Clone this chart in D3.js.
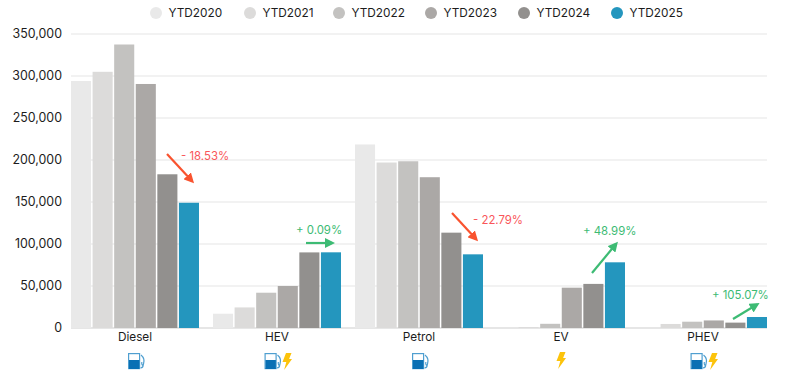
<!DOCTYPE html>
<html>
<head>
<meta charset="utf-8">
<script src="https://cdn.jsdelivr.net/npm/d3@7"></script>
<style>
  html, body { margin: 0; background: #fff; }
  text { font-family: Inter, "DejaVu Sans", sans-serif; }
</style>
</head>
<body>
<div id="viz"></div>
<script>
const categories = ['Diesel', 'HEV', 'Petrol', 'EV', 'PHEV'];
const years = ['YTD2020', 'YTD2021', 'YTD2022', 'YTD2023', 'YTD2024', 'YTD2025'];
const ytd2020 = [294000, 17000, 218500, 0, 0];
const ytd2021 = [305000, 24500, 197000, 1000, 4800];
const ytd2022 = [337500, 42000, 198500, 5000, 7500];
const ytd2023 = [290500, 50000, 179500, 48000, 9000];
const ytd2024 = [183000, 90000, 113500, 52500, 6400];
const ytd2025 = [149100, 90100, 87700, 78200, 13100];
const yTicks = [0, 50000, 100000, 150000, 200000, 250000, 300000, 350000];
const changeLabels = ['- 18.53%', '+ 0.09%', '- 22.79%', '+ 48.99%', '+ 105.07%'];
const iconTypes = [['fuel'], ['fuel', 'bolt'], ['fuel'], ['bolt'], ['fuel', 'bolt']];

const series = [ytd2020, ytd2021, ytd2022, ytd2023, ytd2024, ytd2025];
const colors = ['#e9e9e9', '#dcdbda', '#c3c2c0', '#aba8a6', '#92908e', '#2496be'];
const RED = '#f9565a', ORANGE = '#f9532f', GREEN = '#3dbb74';
const FONT = 'Inter, "DejaVu Sans", sans-serif';

const dimensions = { width: 785, height: 379, left: 71, right: 767, top: 34, bottom: 328 };

const svg = d3.select('#viz').append('svg')
    .attr('width', dimensions.width)
    .attr('height', dimensions.height)
    .style('display', 'block');

// scales
const xScale = d3.scaleBand().domain(categories)
    .range([dimensions.left, dimensions.right]).paddingInner(14 / 142);
const barScale = d3.scaleBand().domain(years)
    .range([0, xScale.bandwidth()]).paddingInner(0.07);
const yScale = d3.scaleLinear().domain([0, 350000])
    .range([dimensions.bottom, dimensions.top]);

// grid + y axis
svg.append('g').selectAll('line').data(yTicks).join('line')
    .attr('x1', dimensions.left).attr('x2', dimensions.right)
    .attr('y1', d => yScale(d)).attr('y2', d => yScale(d))
    .attr('stroke', '#e6e6e6').attr('stroke-width', d => d === 0 ? 2 : 1.2);

const yAxis = svg.append('g')
    .attr('transform', `translate(${dimensions.left}, 0)`)
    .call(d3.axisLeft(yScale).tickValues(yTicks).tickFormat(d3.format(',')).tickSize(0).tickPadding(9));
yAxis.select('.domain').remove();
yAxis.selectAll('text')
    .style('font-family', FONT)
    .style('font-size', '12.4px').attr('fill', '#1c1c1c');

// bars
const groups = svg.append('g').selectAll('g').data(categories).join('g')
    .attr('transform', d => `translate(${xScale(d)}, 0)`);
groups.selectAll('rect')
    .data((d, i) => years.map((y, j) => ({ year: y, value: series[j][i], color: colors[j] })))
    .join('rect')
    .attr('x', d => barScale(d.year))
    .attr('y', d => yScale(d.value))
    .attr('width', barScale.bandwidth())
    .attr('height', d => yScale(0) - yScale(d.value))
    .attr('fill', d => d.color);

// category labels
svg.append('g')
    .attr('transform', 'translate(0, 328)')
    .call(d3.axisBottom(xScale).tickSize(0).tickPadding(5))
    .call(g => g.select('.domain').remove())
    .selectAll('text')
    .style('font-family', FONT)
    .style('font-size', '11.8px').attr('fill', '#1c1c1c');

// fuel / electric icons under the labels
function drawFuel(g) {
    g.append('rect').attr('x', 0.6).attr('y', 0.6).attr('width', 11).attr('height', 15)
        .attr('fill', '#fff').attr('stroke', '#4f9fd0').attr('stroke-width', 1.2);
    g.append('rect').attr('x', 1).attr('y', 7).attr('width', 10.4).attr('height', 9).attr('fill', '#0a70b4');
    g.append('path').attr('d', 'M13 2 C16.5 5 16.5 8 15.5 11 C14.8 13.5 13.4 12 13.8 9 M12.5 15 C15 14.5 15.3 13.5 15.2 12')
        .attr('fill', 'none').attr('stroke', '#4f9fd0').attr('stroke-width', 1.2);
}
function drawBolt(g) {
    g.append('path').attr('d', 'M4.5 0 L10 0 L7.6 6 L10.5 6 L2.6 17 L4.8 9 L1 9 Z').attr('fill', '#fcc30b');
}
categories.forEach((c, i) => {
    const cx = xScale(c) + xScale.bandwidth() / 2;
    const types = iconTypes[i];
    const both = types.length === 2;
    const y = 353;
    if (types.includes('fuel')) {
        drawFuel(svg.append('g').attr('transform', `translate(${cx - (both ? 12.5 : 7)}, ${y})`));
    }
    if (types.includes('bolt')) {
        drawBolt(svg.append('g').attr('transform', `translate(${cx + (both ? 4.5 : -5.5)}, ${both ? y : y - 1})`));
    }
});

// change arrows, anchored to the right edge of each group
const defs = svg.append('defs');
[['head-red', ORANGE], ['head-green', GREEN]].forEach(([id, col]) => {
    defs.append('marker').attr('id', id).attr('viewBox', '0 0 10 10')
        .attr('refX', 7).attr('refY', 5).attr('markerWidth', 10).attr('markerHeight', 10)
        .attr('markerUnits', 'userSpaceOnUse').attr('orient', 'auto')
        .append('path').attr('d', 'M0 0 L10 5 L0 10 Z').attr('fill', col);
});
const barEnd = c => xScale(c) + xScale.bandwidth();
const arrows = [
    { c: 'Diesel', dx1: -32, y1: 154, dx2: -7, y2: 181, lx: -18, ly: 160 },
    { c: 'HEV', dx1: -35, y1: 243, dx2: -9, y2: 243, lx: -45, ly: 234 },
    { c: 'Petrol', dx1: -31, y1: 213, dx2: -7, y2: 239, lx: -10, ly: 224 },
    { c: 'EV', dx1: -33, y1: 273, dx2: -9, y2: 244, lx: -42, ly: 235 },
    { c: 'PHEV', dx1: -34, y1: 319, dx2: -10, y2: 304.5, lx: -55, ly: 299 }
];
arrows.forEach((a, i) => {
    const up = changeLabels[i][0] === '+';
    svg.append('line')
        .attr('x1', barEnd(a.c) + a.dx1).attr('y1', a.y1)
        .attr('x2', barEnd(a.c) + a.dx2).attr('y2', a.y2)
        .attr('stroke', up ? GREEN : ORANGE).attr('stroke-width', 2.2)
        .attr('marker-end', `url(#head-${up ? 'green' : 'red'})`);
    svg.append('text')
        .attr('x', barEnd(a.c) + a.lx).attr('y', a.ly)
        .attr('font-size', 11.4).attr('fill', up ? GREEN : RED)
        .text(changeLabels[i]);
});

// legend
const legendX = [156, 250, 339, 431, 524, 617];
const legend = svg.append('g').selectAll('g').data(years).join('g')
    .attr('transform', (d, i) => `translate(${legendX[i]}, 13)`);
legend.append('circle').attr('r', 6).attr('fill', (d, i) => colors[i]);
legend.append('text').attr('x', 12.5).attr('dy', '0.35em')
    .attr('font-size', 11.8).attr('fill', '#1c1c1c').text(d => d);
</script>
</body>
</html>
